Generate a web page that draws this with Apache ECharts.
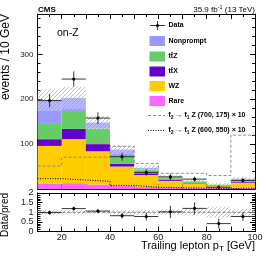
<!DOCTYPE html>
<html><head><meta charset="utf-8">
<script src="https://cdn.jsdelivr.net/npm/echarts@6/dist/echarts.min.js"></script>
<style>html,body{margin:0;padding:0;background:#fff}#c{width:266px;height:256px}</style>
</head><body><div id="c"></div>
<script>
// ---- data ----
const binLow = [10,20,30,40,50,60,70,80,90];
const binWidth = 10;
const rare = [12,13,10,8,5,4,3,2,3];
const wz = [84,98,74,42,26,14,9,5,11];
const ttx = [15,23,16,6,4,2,1,1,2];
const ttz = [34,40,35,20,9,6,4,2,6];
const nonprompt = [53,29,13,12,3,1,1,0,1];
const bkgUnc = [24,25,15,10,6,4,3,3,4];
const dataVals = [197,245,158,72,37,27,22,4,19];
const dataErr = [15,17,13,9,7,7.5,5.5,2.5,5];
const sig700 = [51,71,71,95,57,35,35,30,120];
const sig600 = [23,20,17,8,4,3,2,1,2];
const ratioVals = [0.98,1.19,1.06,0.82,0.78,1.02,1.2,0.41,0.78];
const ratioErr = [0.1,0.1,0.1,0.14,0.2,0.32,0.32,0.25,0.23];
const xTickLabels = [20,40,60,80,100];
const yTickLabels = [100,200,300];
const ratioTickLabels = [0,0.5,1,1.5,2];

const FONT = 'Liberation Sans, Arial, Helvetica, sans-serif';
const colors = {rare:'#ff66ff', wz:'#ffcc00', ttx:'#6600cc', ttz:'#66cc66', np:'#9999ff'};

function hatchCanvas(){
  const n=4;
  const c=document.createElement('canvas'); c.width=n; c.height=n;
  const g=c.getContext('2d');
  g.fillStyle='rgba(255,255,255,0.3)'; g.fillRect(0,0,n,n);
  g.strokeStyle='#9a9a9a'; g.lineWidth=0.6;
  g.beginPath(); g.moveTo(0,n); g.lineTo(n,0); g.moveTo(-1,1); g.lineTo(1,-1); g.moveTo(n-1,n+1); g.lineTo(n+1,n-1); g.stroke();
  return c;
}
const hatch = {image: hatchCanvas(), repeat:'repeat'};

const chart = echarts.init(document.getElementById('c'), null, {renderer:'canvas'});

// stacking
const comps = [['rare',rare],['wz',wz],['ttx',ttx],['ttz',ttz],['np',nonprompt]];
const base = binLow.map(()=>0);
const series = [];
comps.forEach(([name, vals])=>{
  const d = binLow.map((x,i)=>[x, x+binWidth, base[i], base[i]+vals[i]]);
  vals.forEach((v,i)=>base[i]+=v);
  series.push({type:'custom', name, xAxisIndex:0, yAxisIndex:0, z:2, clip:true,
    encode:{x:[0,1], y:[2,3]}, data:d,
    renderItem:(p,api)=>{
      const a=api.coord([api.value(0),api.value(3)]), b=api.coord([api.value(1),api.value(2)]);
      return {type:'rect', shape:{x:a[0],y:a[1],width:b[0]-a[0],height:b[1]-a[1]}, style:{fill:colors[name]}};
    }});
});
const total = base.slice();
// uncertainty hatch
series.push({type:'custom', xAxisIndex:0, yAxisIndex:0, z:3, clip:true, encode:{x:[0,1], y:[2,3]},
  data: binLow.map((x,i)=>[x,x+binWidth,total[i]-bkgUnc[i],total[i]+bkgUnc[i]]),
  renderItem:(p,api)=>{
    const a=api.coord([api.value(0),api.value(3)]), b=api.coord([api.value(1),api.value(2)]);
    return {type:'rect', shape:{x:a[0],y:a[1],width:b[0]-a[0],height:b[1]-a[1]}, style:{fill:hatch}};
  }});
// signal step lines
function stepData(v){ const d=binLow.map((x,i)=>[x,v[i]]); d.push([binLow[binLow.length-1]+binWidth, v[v.length-1]]); return d; }
series.push({type:'line', step:'end', xAxisIndex:0, yAxisIndex:0, z:4, showSymbol:false, silent:true,
  data: stepData(sig700), lineStyle:{color:'#8c8c8c', width:1, type:[3,2]}});
series.push({type:'line', step:'end', xAxisIndex:0, yAxisIndex:0, z:4, showSymbol:false, silent:true,
  data: stepData(sig600), lineStyle:{color:'#000', width:1, type:[1,1.5]}});

function pointsRender(p,api){
  const x0=api.value(0), x1=api.value(1), y=api.value(2), e=api.value(3);
  const l=api.coord([x0,y]), r=api.coord([x1,y]);
  const xm=(x0+x1)/2, t=api.coord([xm,y+e]), b=api.coord([xm,y-e]);
  return {type:'group', children:[
    {type:'line', shape:{x1:l[0],y1:l[1],x2:r[0],y2:r[1]}, style:{stroke:'#222',lineWidth:0.9}},
    {type:'line', shape:{x1:t[0],y1:t[1],x2:b[0],y2:b[1]}, style:{stroke:'#222',lineWidth:0.9}},
    {type:'circle', shape:{cx:t[0],cy:l[1],r:1.6}, style:{fill:'#000'}}
  ]};
}
series.push({type:'custom', xAxisIndex:0, yAxisIndex:0, z:5, encode:{x:[0,1], y:2},
  data: binLow.map((x,i)=>[x,x+binWidth,dataVals[i],dataErr[i]]), renderItem:pointsRender});

// ratio panel
series.push({type:'custom', xAxisIndex:2, yAxisIndex:2, z:3, clip:true, encode:{x:[0,1], y:[2,3]},
  data: binLow.map((x,i)=>[x,x+binWidth,1-bkgUnc[i]/total[i],1+bkgUnc[i]/total[i]]),
  renderItem:(p,api)=>{
    const a=api.coord([api.value(0),api.value(3)]), b=api.coord([api.value(1),api.value(2)]);
    return {type:'rect', shape:{x:a[0],y:a[1],width:b[0]-a[0],height:b[1]-a[1]}, style:{fill:hatch}};
  }});
series.push({type:'line', xAxisIndex:2, yAxisIndex:2, z:4, showSymbol:false, silent:true,
  data:[[10,1],[100,1]], lineStyle:{color:'#777', width:1, type:[3,2]}});
series.push({type:'custom', xAxisIndex:2, yAxisIndex:2, z:5, encode:{x:[0,1], y:2},
  data: binLow.map((x,i)=>[x,x+binWidth,ratioVals[i],ratioErr[i]]), renderItem:pointsRender});

const tickCommon = {show:true, inside:true, length:5, lineStyle:{color:'#000', width:1}};
const minorCommon = {show:true, length:3, lineStyle:{color:'#000', width:1}};
const lineCommon = {show:true, onZero:false, lineStyle:{color:'#000', width:1}};
function xAx(grid, pos, labels){
  return {type:'value', gridIndex:grid, position:pos, min:10, max:100, interval:10,
    axisLine:lineCommon, axisTick:tickCommon, minorTick:Object.assign({splitNumber:2}, minorCommon),
    splitLine:{show:false}, minorSplitLine:{show:false},
    axisLabel: labels ? {show:true, color:'#222', fontSize:9, fontFamily:FONT, margin:2,
      formatter:v=> xTickLabels.includes(v) ? String(v) : ''} : {show:false}};
}
function yAx(grid, pos, min, max, interval, split, labels, list){
  return {type:'value', gridIndex:grid, position:pos, min, max, interval,
    axisLine:lineCommon, axisTick:tickCommon, minorTick:Object.assign({splitNumber:split}, minorCommon),
    splitLine:{show:false}, minorSplitLine:{show:false},
    axisLabel: labels ? {show:true, color:'#222', fontSize:labels, fontFamily:FONT, margin:4,
      formatter:v=> list.some(t=>Math.abs(t-v)<1e-9) ? String(v) : ''} : {show:false}};
}

const T = (style)=>Object.assign({fontFamily:FONT, fill:'#000'}, style);
const legendRows = [
  {y:41, color:colors.np, text:'Nonprompt'},
  {y:56.5, color:colors.ttz, text:'tt\u0304Z'},
  {y:71.5, color:colors.ttx, text:'tt\u0304X'},
  {y:86, color:colors.wz, text:'WZ'},
  {y:101, color:colors.rare, text:'Rare'}
];
const graphics = [];
legendRows.forEach(r=>{
  graphics.push({type:'rect', shape:{x:149.5,y:r.y-5,width:15.5,height:10}, style:{fill:r.color}});
  graphics.push({type:'text', x:168.5, y:r.y, style:T({text:r.text, fontSize:7, fontWeight:'bold', verticalAlign:'middle'})});
});
// data legend
graphics.push({type:'line', shape:{x1:150,y1:25.5,x2:165,y2:25.5}, style:{stroke:'#222',lineWidth:0.9}});
graphics.push({type:'line', shape:{x1:157.5,y1:21,x2:157.5,y2:30}, style:{stroke:'#222',lineWidth:0.9}});
graphics.push({type:'circle', shape:{cx:157.5,cy:25.5,r:1.6}, style:{fill:'#000'}});
graphics.push({type:'text', x:168.5, y:25.5, style:T({text:'Data', fontSize:7, fontWeight:'bold', verticalAlign:'middle'})});
// signal legend
graphics.push({type:'line', shape:{x1:148,y1:115.5,x2:165,y2:115.5}, style:{stroke:'#8c8c8c',lineWidth:1,lineDash:[3,2]}});
graphics.push({type:'line', shape:{x1:148,y1:130.5,x2:165,y2:130.5}, style:{stroke:'#000',lineWidth:1,lineDash:[1,1.5]}});
const sigRich = {s:{fontSize:5, fontFamily:FONT, fontWeight:'bold', verticalAlign:'bottom', padding:[4,0,0,0]}};
graphics.push({type:'text', x:168.5, y:115.5, style:T({text:'t\u0303{s|2} \u2192 t\u0303{s|1} Z (700, 175) \u00d7 10', rich:sigRich, fontSize:7, fontWeight:'bold', verticalAlign:'middle'})});
graphics.push({type:'text', x:168.5, y:130.5, style:T({text:'t\u0303{s|2} \u2192 t\u0303{s|1} Z (600, 550) \u00d7 10', rich:sigRich, fontSize:7, fontWeight:'bold', verticalAlign:'middle'})});
// headers
graphics.push({type:'text', x:38, y:10, style:T({text:'CMS', fontSize:8, fontWeight:'bold', verticalAlign:'middle'})});
graphics.push({type:'text', x:255, y:10, style:T({text:'35.9 fb{sup|-1} (13 TeV)', align:'right', verticalAlign:'middle', fontSize:8,
  rich:{sup:{fontSize:5.5, fontFamily:FONT, padding:[0,0,5,0]}}})});
graphics.push({type:'text', x:57, y:33.5, style:T({text:'on-Z', fontSize:10.5, verticalAlign:'middle'})});
// axis titles
graphics.push({type:'text', x:6, y:14, rotation:Math.PI/2, style:T({text:'events / 10 GeV', fontSize:12, align:'right', verticalAlign:'middle'})});
graphics.push({type:'text', x:5, y:193, rotation:Math.PI/2, style:T({text:'Data/pred', fontSize:10, align:'right', verticalAlign:'middle'})});
graphics.push({type:'text', x:255, y:246, style:T({text:'Trailing lepton p{sub|T} [GeV]', align:'right', verticalAlign:'middle', fontSize:11,
  rich:{sub:{fontSize:8, fontFamily:FONT, padding:[6,0,0,0]}}})});

chart.setOption({
  animation:false,
  backgroundColor:'#fff',
  grid:[
    {left:37.5, top:14, width:217.5, height:175},
    {left:37.5, top:193, width:217.5, height:38.5}
  ],
  xAxis:[xAx(0,'bottom',false), xAx(0,'top',false), xAx(1,'bottom',true), xAx(1,'top',false)],
  yAxis:[yAx(0,'left',0,390,100,5,8,yTickLabels), yAx(0,'right',0,390,100,5,false),
         yAx(1,'left',0,2,0.5,5,9,ratioTickLabels), yAx(1,'right',0,2,0.5,5,false)],
  series,
  graphic:{elements:graphics}
});
</script></body></html>
